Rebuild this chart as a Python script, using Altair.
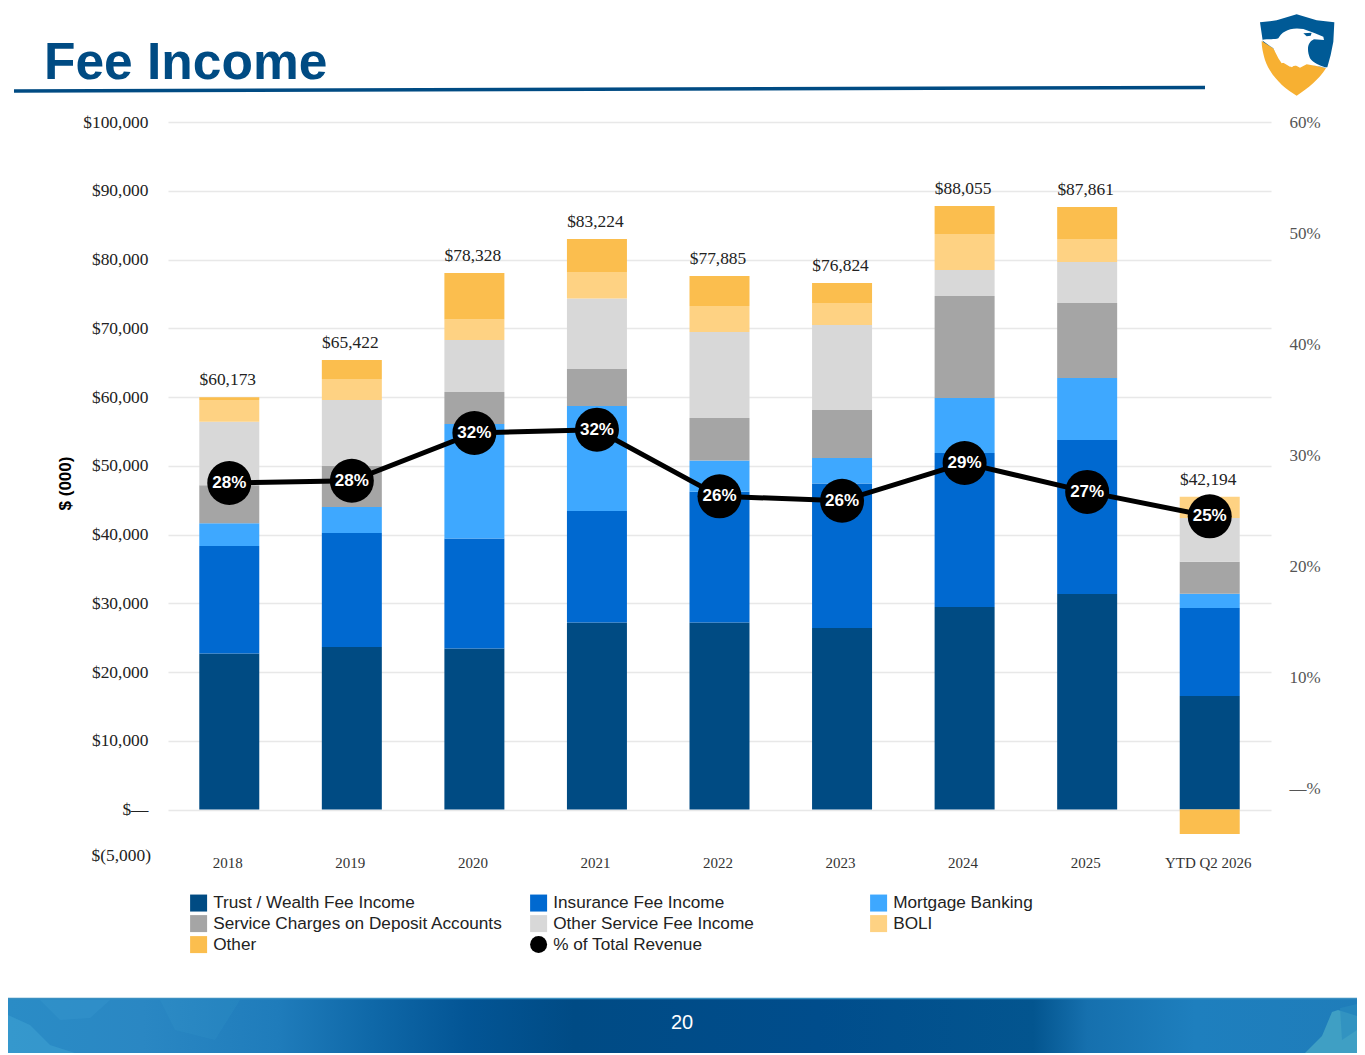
import altair as alt
import pandas as pd

categories = ["2018", "2019", "2020", "2021", "2022", "2023", "2024", "2025", "YTD Q2 2026"]
series_names = ["Trust / Wealth Fee Income", "Insurance Fee Income", "Mortgage Banking",
                "Service Charges on Deposit Accounts", "Other Service Fee Income", "BOLI", "Other"]
line_name = "% of Total Revenue"
colors = ["#004b83", "#0069d0", "#3ea8ff", "#a5a5a5", "#d8d8d8", "#fed283", "#fbbe4e", "#000000"]

trust = [22700, 23650, 23420, 27200, 27200, 26400, 29450, 31350, 16510]
insurance = [15630, 16570, 16000, 16220, 19030, 21020, 22400, 22400, 12800]
mortgage = [3300, 3780, 16650, 15270, 4560, 3710, 8000, 9010, 2090]
service = [5530, 5960, 4660, 5380, 6160, 6970, 14840, 10910, 4650]
other_service = [9240, 9600, 7560, 10260, 12500, 12370, 3780, 5960, 6350]
boli = [3170, 3050, 2980, 3850, 3790, 3200, 5230, 3350, 3100]
other = [390, 2760, 6770, 4820, 4360, 2910, 4080, 4660, -3560]
all_series = [trust, insurance, mortgage, service, other_service, boli, other]
totals = ["$60,173", "$65,422", "$78,328", "$83,224", "$77,885", "$76,824", "$88,055", "$87,861", "$42,194"]
pct_values = [27.5, 27.7, 32.0, 32.3, 26.3, 25.9, 29.3, 26.7, 24.5]
pct_labels = ["28%", "28%", "32%", "32%", "26%", "26%", "29%", "27%", "25%"]

SERIF = "Liberation Serif"
SANS = "Liberation Sans"
NAVY = "#004b83"
PLOT_X, PLOT_Y, PLOT_W, PLOT_H = 168, 122, 1103, 722

rows = []
for i, (name, vals) in enumerate(zip(series_names, all_series)):
    for c, v in zip(categories, vals):
        rows.append({"cat": c, "series": name, "order": i, "value": v})
bars_df = pd.DataFrame(rows)

tops = [sum(v for v in col if v > 0) for col in zip(*all_series)]
totals_df = pd.DataFrame({"cat": categories, "top": tops, "label": totals})
pct_df = pd.DataFrame({"cat": categories, "pct": pct_values, "label": pct_labels})

x_enc = alt.X("cat:N", sort=categories, title=None,
              scale=alt.Scale(paddingInner=0.51, paddingOuter=0.255),
              axis=alt.Axis(labelAngle=0, ticks=False, domain=False, grid=False, labelPadding=11,
                            labelOffset=-1.5, labelFont=SERIF, labelFontSize=15, labelColor="#333333"))
y_scale = alt.Scale(domain=[-5000, 100000], nice=False, zero=False)
legend_cfg = dict(orient="none", legendX=22, legendY=772, columns=3, direction="horizontal",
                  gridAlign="all", columnPadding=27, rowPadding=2,
                  symbolSize=289, symbolStrokeWidth=0, labelFont=SANS,
                  labelFontSize=17.2, labelColor="#222222", labelOffset=6,
                  labelLimit=400, title=None)
color_enc = alt.Color("series:N", title=None,
                      scale=alt.Scale(domain=series_names + [line_name], range=colors),
                      legend=alt.Legend(**legend_cfg))

bars = alt.Chart(bars_df).mark_bar(size=60).encode(
    x=x_enc,
    y=alt.Y("value:Q", stack="zero", scale=y_scale, title="$ (000)",
            axis=alt.Axis(values=list(range(0, 100001, 10000)), ticks=False, domain=False,
                          grid=True, gridColor="#e8e8e8", gridWidth=1.5, labelPadding=20,
                          labelFont=SERIF, labelFontSize=17.4, labelColor="#222222",
                          labelExpr="datum.value == 0 ? '$—' : '$' + format(datum.value, ',')",
                          titleFont=SANS, titleFontSize=17, titleFontWeight="bold",
                          titleColor="#000000", titleX=-94, titleY=361)),
    color=color_enc,
    order=alt.Order("order:Q"),
)

legend_df = pd.DataFrame({"series": series_names + [line_name]})
legend_layer = alt.Chart(legend_df).mark_point(filled=True, size=1, opacity=1).encode(
    x=alt.value(-500), y=alt.value(-500),
    color=color_enc,
    shape=alt.Shape("series:N", title=None,
                    scale=alt.Scale(domain=series_names + [line_name],
                                    range=["square"] * 7 + ["circle"]),
                    legend=alt.Legend(**legend_cfg)),
)

total_text = alt.Chart(totals_df).mark_text(font=SERIF, fontSize=17.4, color="#222222", dy=-17, dx=-1.5).encode(
    x=alt.X("cat:N", sort=categories),
    y=alt.Y("top:Q", scale=y_scale),
    text="label:N",
)

y2_scale = alt.Scale(domain=[-5, 60], nice=False, zero=False)
y2 = alt.Y("pct:Q", scale=y2_scale, title=None,
           axis=alt.Axis(orient="right", values=list(range(0, 61, 10)), ticks=False, domain=False,
                         grid=False, labelPadding=18, labelFont=SERIF, labelFontSize=17,
                         labelColor="#555555",
                         labelExpr="datum.value == 0 ? '—%' : datum.value + '%'"))
pct_base = alt.Chart(pct_df).encode(x=alt.X("cat:N", sort=categories), y=y2)
pct_line = pct_base.mark_line(color="#000000", strokeWidth=5)
pct_dots = pct_base.mark_point(filled=True, color="#000000", size=1936, opacity=1, strokeWidth=0)
pct_text = pct_base.mark_text(font=SANS, fontSize=17, fontWeight="bold", color="#ffffff").encode(text="label:N")

# Slide furniture, placed in pixels relative to the plot origin
def px(x):
    return alt.value(x - PLOT_X)
def py(y):
    return alt.value(y - PLOT_Y)

one = pd.DataFrame({"t": [""]})
title = alt.Chart(pd.DataFrame({"t": ["Fee Income"]})).mark_text(
    font=SANS, fontSize=51.5, fontWeight="bold", color=NAVY, align="left", baseline="alphabetic"
).encode(x=px(44), y=py(79), text="t:N")
header_rule = alt.Chart(one).mark_rule(color=NAVY, strokeWidth=3.5).encode(
    x=px(14), x2=px(1205), y=py(91), y2=py(87.5))

footer_grad = alt.LinearGradient(
    gradient="linear", x1=0, x2=1, y1=0, y2=0,
    stops=[alt.GradientStop(offset=o, color=c) for o, c in [
        (0, "#2a8cc6"), (0.1, "#2a87c3"), (0.2, "#1f7cbb"), (0.27, "#0f68a8"), (0.34, "#035595"),
        (0.42, "#004b85"), (0.6, "#004d8c"), (0.76, "#03558f"), (0.8, "#1670ae"), (0.88, "#1e7fbe"),
        (1, "#1f7dba")]])
footer = alt.Chart(one).mark_rect(color=footer_grad).encode(
    x=px(8), x2=px(1357), y=py(998), y2=py(1053))
footer_top = alt.Chart(one).mark_rule(color="#3b8fc0", strokeWidth=1.5).encode(
    x=px(8), x2=px(1357), y=py(998.5))
page_no = alt.Chart(pd.DataFrame({"t": ["20"]})).mark_text(
    font=SANS, fontSize=20, color="#ffffff").encode(x=px(682), y=py(1023), text="t:N")

def shape_part(path, fill, at_x, at_y, size=4, opacity=1):
    return alt.Chart(one).mark_point(shape=path, size=size, filled=True, color=fill,
                                     opacity=opacity, strokeWidth=0).encode(x=px(at_x), y=py(at_y))

footer_patches = [
    shape_part("M1305,1053 L1322,1036 L1332,1012 L1338,1010 L1357,1016 L1357,1053 Z", "#3f9fc4", 0, 0),
    shape_part("M1340,1008 L1357,1004 L1357,1030 L1342,1040 Z", "#2a8cc0", 0, 0, opacity=0.6),
    shape_part("M8,1015 L30,1025 L50,1045 L75,1053 L8,1053 Z", "#45aad6", 0, 0, opacity=0.4),
    shape_part("M40,1000 L110,1000 L90,1018 L60,1020 Z", "#3e9fd2", 0, 0, opacity=0.25),
    shape_part("M160,1000 L240,1000 L215,1040 L175,1030 Z", "#3d9ed0", 0, 0, opacity=0.15),
]

LOGO_SCALE = 0.4444
logo = [
    shape_part("M60,52 L110,46 L170,28 L230,46 L283,52 L280,110 L272,150 L262,187 L200,190 L70,120 Z", "#005a96", 1240, 5, LOGO_SCALE),
    shape_part("M65,108 L100,130 L125,170 L150,185 L200,175 L258,190 C235,225 205,250 170,272 "
               "C130,250 90,210 75,165 C68,140 65,125 65,108 Z", "#f7b032", 1240, 5, LOGO_SCALE),
    shape_part("M65,105 C85,100 105,105 115,100 C125,80 150,65 190,72 L225,85 L250,95 L252,105 L222,103 "
               "C205,110 198,130 210,160 C220,175 240,182 258,188 L200,178 L180,188 L165,180 L155,187 "
               "L140,170 L125,175 L115,160 L100,130 Z", "#ffffff", 1240, 5, LOGO_SCALE),
    shape_part("M190,85 L215,83 L212,92 L200,94 Z", "#005a96", 1240, 5, LOGO_SCALE),
]

neg_label = alt.Chart(pd.DataFrame({"t": ["$(5,000)"]})).mark_text(
    font=SERIF, fontSize=17.4, color="#222222", align="right"
).encode(x=px(151), y=py(856), text="t:N")

left = alt.layer(bars, legend_layer, total_text)
right = alt.layer(pct_line, pct_dots, pct_text)
main = alt.layer(left, right).resolve_scale(y="independent")

chart = alt.layer(footer, *footer_patches, footer_top, page_no, title, header_rule, neg_label, *logo, main).properties(
    width=PLOT_W, height=PLOT_H,
    autosize=alt.AutoSizeParams(type="none"),
    padding={"left": 160, "top": 114, "right": 86, "bottom": 209},
    background="#ffffff",
).configure_view(strokeWidth=0)

chart.save("out.html", embed_options={"renderer": "svg", "actions": False})
